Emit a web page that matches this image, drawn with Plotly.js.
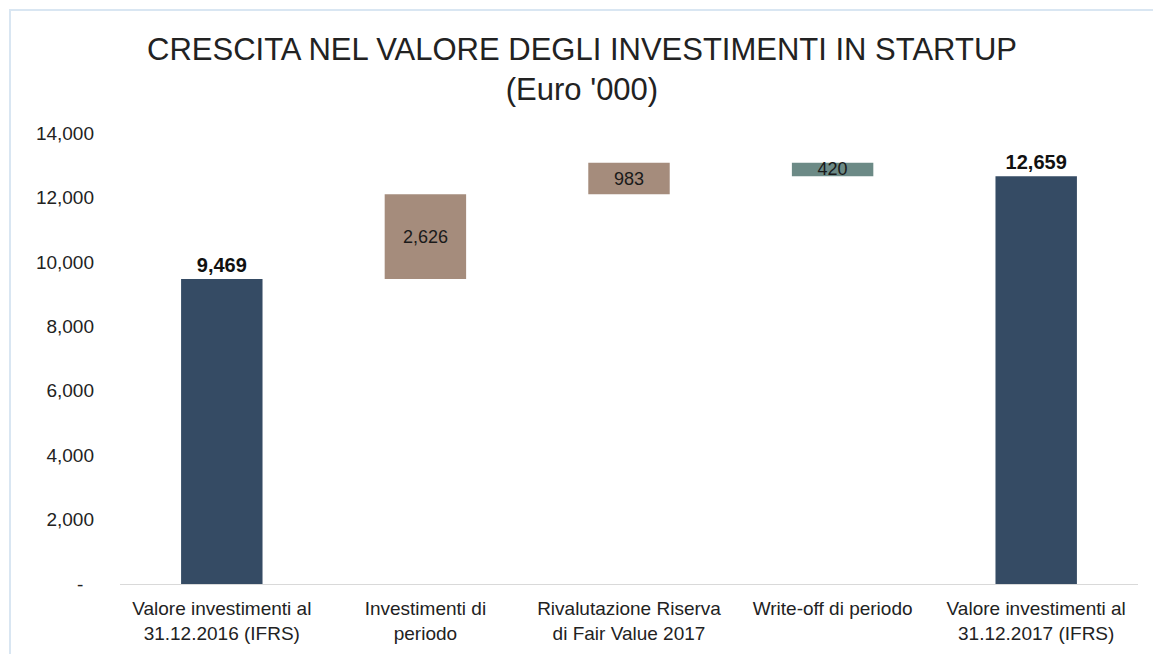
<!DOCTYPE html>
<html>
<head>
<meta charset="utf-8">
<script src="https://cdn.plot.ly/plotly-3.0.1.min.js"></script>
<style>
html,body{margin:0;padding:0;background:#fff;}
#frame{position:absolute;left:9px;top:9px;width:1144px;height:645px;border-left:2px solid #d9e6f2;border-top:2px solid #d9e6f2;box-sizing:border-box;}
#chart{width:1142px;height:643px;}
</style>
</head>
<body>
<div id="frame"><div id="chart"></div></div>
<script>
const categories = [
  "Valore investimenti al<br>31.12.2016 (IFRS)",
  "Investimenti di<br>periodo",
  "Rivalutazione Riserva<br>di Fair Value 2017",
  "Write-off di periodo",
  "Valore investimenti al<br>31.12.2017 (IFRS)"
];
const measures = ["absolute", "relative", "relative", "relative", "total"];
const values = [9469, 2626, 983, -420, 0];
const barLabels = ["<b>9,469</b>", "2,626", "983", "420", "<b>12,659</b>"];
const labelPositions = ["outside", "inside", "inside", "inside", "outside"];
const yTickValues = [0, 2000, 4000, 6000, 8000, 10000, 12000, 14000];
const yTickLabels = ["-\u00a0\u00a0", "2,000", "4,000", "6,000", "8,000", "10,000", "12,000", "14,000"];

const FONT = "Liberation Sans, Arial, sans-serif";

const trace = {
  type: "waterfall",
  x: categories,
  y: values,
  measure: measures,
  text: barLabels,
  textposition: labelPositions,
  insidetextanchor: "middle",
  constraintext: "none",
  insidetextfont: {family: FONT, size: 18, color: "#1a1a1a"},
  outsidetextfont: {family: FONT, size: 20, color: "#111"},
  hoverinfo: "skip",
  width: 0.4,
  connector: {visible: false},
  increasing: {marker: {color: "#a58c7c"}},
  decreasing: {marker: {color: "#6c8a86"}},
  totals: {marker: {color: "#354b64"}},
  cliponaxis: false
};

const layout = {
  width: 1142,
  height: 643,
  margin: {l: 109, r: 15, t: 122, b: 70},
  paper_bgcolor: "#fff",
  plot_bgcolor: "#fff",
  showlegend: false,
  title: {
    text: "CRESCITA NEL VALORE DEGLI INVESTIMENTI IN STARTUP<br>(Euro '000)",
    font: {family: FONT, size: 31, color: "#222"},
    x: 0.5, xanchor: "center",
    y: 0.924, yanchor: "top"
  },
  xaxis: {
    type: "category",
    showline: true, linecolor: "#d9d9d9", linewidth: 1,
    showgrid: false, ticks: "",
    ticklabelstandoff: 7,
    tickfont: {family: FONT, size: 19, color: "#222"}
  },
  yaxis: {
    range: [0, 14000],
    tickvals: yTickValues,
    ticktext: yTickLabels,
    showgrid: false, zeroline: false, showline: false, ticks: "",
    ticklabelstandoff: 25,
    tickfont: {family: FONT, size: 19, color: "#222"}
  }
};

Plotly.newPlot("chart", [trace], layout, {displayModeBar: false, staticPlot: true});
</script>
</body>
</html>
